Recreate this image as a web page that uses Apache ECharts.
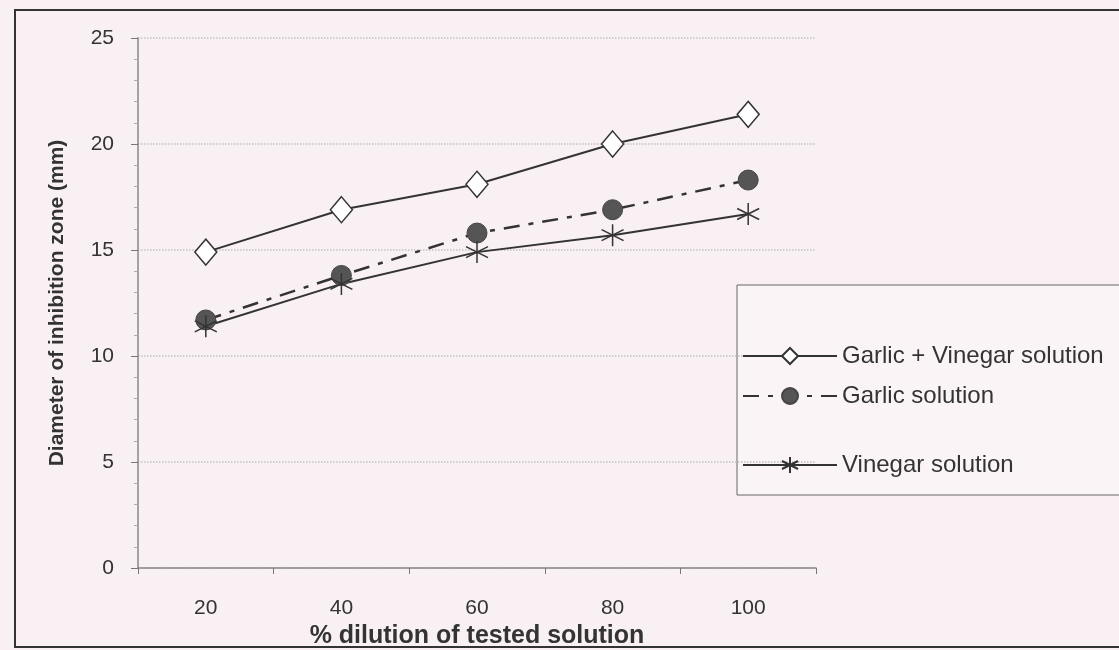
<!DOCTYPE html>
<html><head><meta charset="utf-8">
<script src="https://cdn.jsdelivr.net/npm/echarts@6/dist/echarts.min.js"></script>
<style>html,body{margin:0;padding:0;background:#f8f0f3;}#c{width:1119px;height:650px;}</style>
</head><body><div id="c"></div>
<script>
const categories = ['20','40','60','80','100'];
const garlicVinegar = [14.9, 16.9, 18.1, 20.0, 21.4];
const garlic = [11.7, 13.8, 15.8, 16.9, 18.3];
const vinegar = [11.4, 13.4, 14.9, 15.7, 16.7];
const seriesNames = ['Garlic + Vinegar solution', 'Garlic solution', 'Vinegar solution'];

const asterisk = 'path://M0,-10L0,10M-8.7,-5L8.7,5M-8.7,5L8.7,-5';
const font = 'Liberation Sans, Arial, sans-serif';
const legendText = {fontFamily:font, fontSize:24, color:'#333'};
const chart = echarts.init(document.getElementById('c'));
chart.setOption({
  backgroundColor: '#f8f0f3',
  animation: false,
  graphic: [
    {type:'rect', shape:{x:15, y:10, width:1130, height:637}, style:{fill:'none', stroke:'#333', lineWidth:2}, z:-1},
    {type:'rect', shape:{x:737, y:285, width:420, height:210}, style:{fill:'#faf4f6', stroke:'#666', lineWidth:1}, z:0}
  ],
  grid: {left:138, right:303, top:38, bottom:82, containLabel:false, outerBoundsMode:'none'},
  legend: [
    {data:[seriesNames[0]], left:737, top:339, itemWidth:94, itemHeight:20, textStyle:legendText, z:5},
    {data:[seriesNames[1]], left:737, top:379, itemWidth:94, itemHeight:20, textStyle:legendText, z:5},
    {data:[seriesNames[2]], left:737, top:448, itemWidth:94, itemHeight:20, textStyle:legendText, z:5}
  ],
  xAxis: {
    type:'category', data:categories, boundaryGap:true,
    name:'% dilution of tested solution', nameLocation:'middle', nameGap:48,
    nameTextStyle:{fontFamily:font, fontSize:25, fontWeight:'bold', color:'#333'},
    axisLine:{lineStyle:{color:'#888', width:1.5}},
    axisTick:{show:true, length:6, lineStyle:{color:'#777'}},
    axisLabel:{fontFamily:font, fontSize:21, color:'#333', margin:30},
    splitLine:{show:false}
  },
  yAxis: {
    type:'value', min:0, max:25, interval:5,
    name:'Diameter of inhibition zone (mm)', nameLocation:'middle', nameGap:70,
    nameTextStyle:{fontFamily:font, fontSize:21, fontWeight:'bold', color:'#333'},
    axisLine:{show:true, lineStyle:{color:'#888', width:1.5}},
    axisTick:{show:true, length:7, lineStyle:{color:'#777'}},
    minorTick:{show:true, splitNumber:5, length:4, lineStyle:{color:'#aaa'}},
    axisLabel:{fontFamily:font, fontSize:21, color:'#333', margin:24},
    splitLine:{show:true, lineStyle:{color:'#c4c0c2', type:'dotted', width:1.5}}
  },
  series: [
    {name:seriesNames[0], type:'line', data:garlicVinegar, symbol:'diamond', symbolSize:[22,26],
     lineStyle:{color:'#333', width:2}, itemStyle:{color:'#fff', borderColor:'#333', borderWidth:1.5}, z:3},
    {name:seriesNames[1], type:'line', data:garlic, symbol:'circle', symbolSize:20,
     lineStyle:{color:'#333', width:2.5, type:[16,9,5,9]}, itemStyle:{color:'#555', borderColor:'#444', borderWidth:1}, z:2},
    {name:seriesNames[2], type:'line', data:vinegar, symbol:asterisk, symbolSize:22,
     lineStyle:{color:'#333', width:2}, itemStyle:{color:'none', borderColor:'#333', borderWidth:1.5}, z:2}
  ]
});
</script></body></html>
